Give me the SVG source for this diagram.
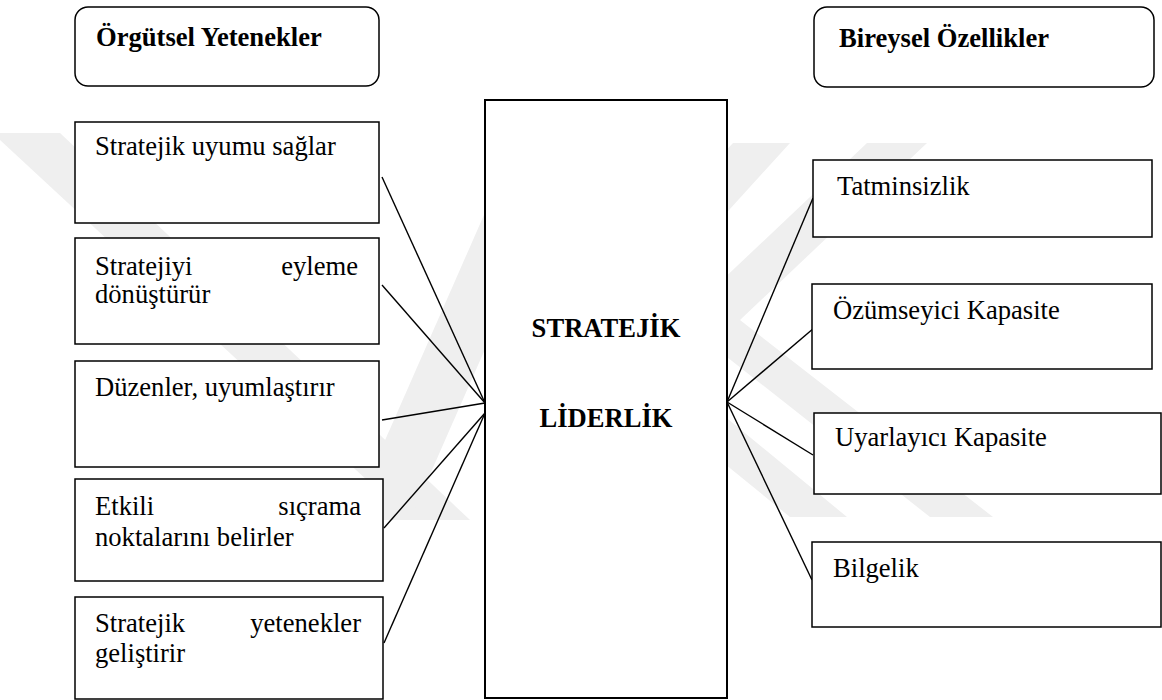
<svg xmlns="http://www.w3.org/2000/svg" width="1162" height="700" viewBox="0 0 1162 700">
  <style>
    .box { fill: #ffffff; stroke: #000000; stroke-width: 1.5; }
    .main { fill: #ffffff; stroke: #000000; stroke-width: 2; }
    .t { font-family: "Liberation Serif", "Times New Roman", serif; font-size: 26.6px; fill: #000000; }
    .b { font-weight: bold; }
    .wm { fill: #efefef; }
    .ln { stroke: #000000; stroke-width: 1.4; fill: none; }
  </style>
  <rect x="0" y="0" width="1162" height="700" fill="#ffffff"/>
  <g id="watermark">
    <polygon class="wm" points="0,133 60,133 470,520 410,520 0,140"/>
    <polygon class="wm" points="520,133 580,133 410,520 350,520"/>
    <polygon class="wm" points="867,143 927,143 740,320 993,517 930,517 680,320"/>
    <polygon class="wm" points="733,143 790,143 620,330 847,517 790,517 560,330"/>
  </g>
  <g id="connectors">
    <line class="ln" x1="382" y1="177" x2="485" y2="403"/>
    <line class="ln" x1="382" y1="285" x2="485" y2="403"/>
    <line class="ln" x1="382" y1="420" x2="485" y2="403"/>
    <line class="ln" x1="384" y1="528" x2="485" y2="413"/>
    <line class="ln" x1="384" y1="643" x2="485" y2="413"/>
    <line class="ln" x1="727" y1="402" x2="813" y2="198"/>
    <line class="ln" x1="727" y1="402" x2="814" y2="328"/>
    <line class="ln" x1="727" y1="402" x2="813" y2="455"/>
    <line class="ln" x1="727" y1="402" x2="812" y2="580"/>
  </g>
  <g id="header-left">
    <rect class="box" x="75" y="7" width="304" height="79" rx="13"/>
    <text class="t b" x="96" y="46">Örgütsel Yetenekler</text>
  </g>
  <g id="header-right">
    <rect class="box" x="814" y="7" width="340" height="80" rx="13"/>
    <text class="t b" x="839" y="47">Bireysel Özellikler</text>
  </g>
  <g id="center">
    <rect class="main" x="485" y="100" width="242" height="598"/>
    <text class="t b" x="606" y="337" text-anchor="middle">STRATEJİK</text>
    <text class="t b" x="606" y="427" text-anchor="middle">LİDERLİK</text>
  </g>
  <g id="left-1">
    <rect class="box" x="75" y="122" width="304" height="101"/>
    <text class="t" x="95" y="155">Stratejik uyumu sağlar</text>
  </g>
  <g id="left-2">
    <rect class="box" x="75" y="238" width="304" height="106"/>
    <text class="t"><tspan x="95" y="275">Stratejiyi</tspan><tspan x="358" y="275" text-anchor="end">eyleme</tspan><tspan x="95" y="303">dönüştürür</tspan></text>
  </g>
  <g id="left-3">
    <rect class="box" x="75" y="361" width="304" height="106"/>
    <text class="t" x="95" y="396">Düzenler, uyumlaştırır</text>
  </g>
  <g id="left-4">
    <rect class="box" x="75" y="479" width="308" height="102"/>
    <text class="t"><tspan x="95" y="515">Etkili</tspan><tspan x="361" y="515" text-anchor="end">sıçrama</tspan><tspan x="95" y="546">noktalarını belirler</tspan></text>
  </g>
  <g id="left-5">
    <rect class="box" x="75" y="597" width="308" height="102"/>
    <text class="t"><tspan x="95" y="632">Stratejik</tspan><tspan x="361" y="632" text-anchor="end">yetenekler</tspan><tspan x="95" y="662">geliştirir</tspan></text>
  </g>
  <g id="right-1">
    <rect class="box" x="813" y="160" width="339" height="77"/>
    <text class="t" x="837" y="195">Tatminsizlik</text>
  </g>
  <g id="right-2">
    <rect class="box" x="812" y="284" width="340" height="85"/>
    <text class="t" x="833" y="319">Özümseyici Kapasite</text>
  </g>
  <g id="right-3">
    <rect class="box" x="814" y="413" width="347" height="81"/>
    <text class="t" x="835" y="446">Uyarlayıcı Kapasite</text>
  </g>
  <g id="right-4">
    <rect class="box" x="812" y="542" width="349" height="85"/>
    <text class="t" x="833" y="577">Bilgelik</text>
  </g>
</svg>
